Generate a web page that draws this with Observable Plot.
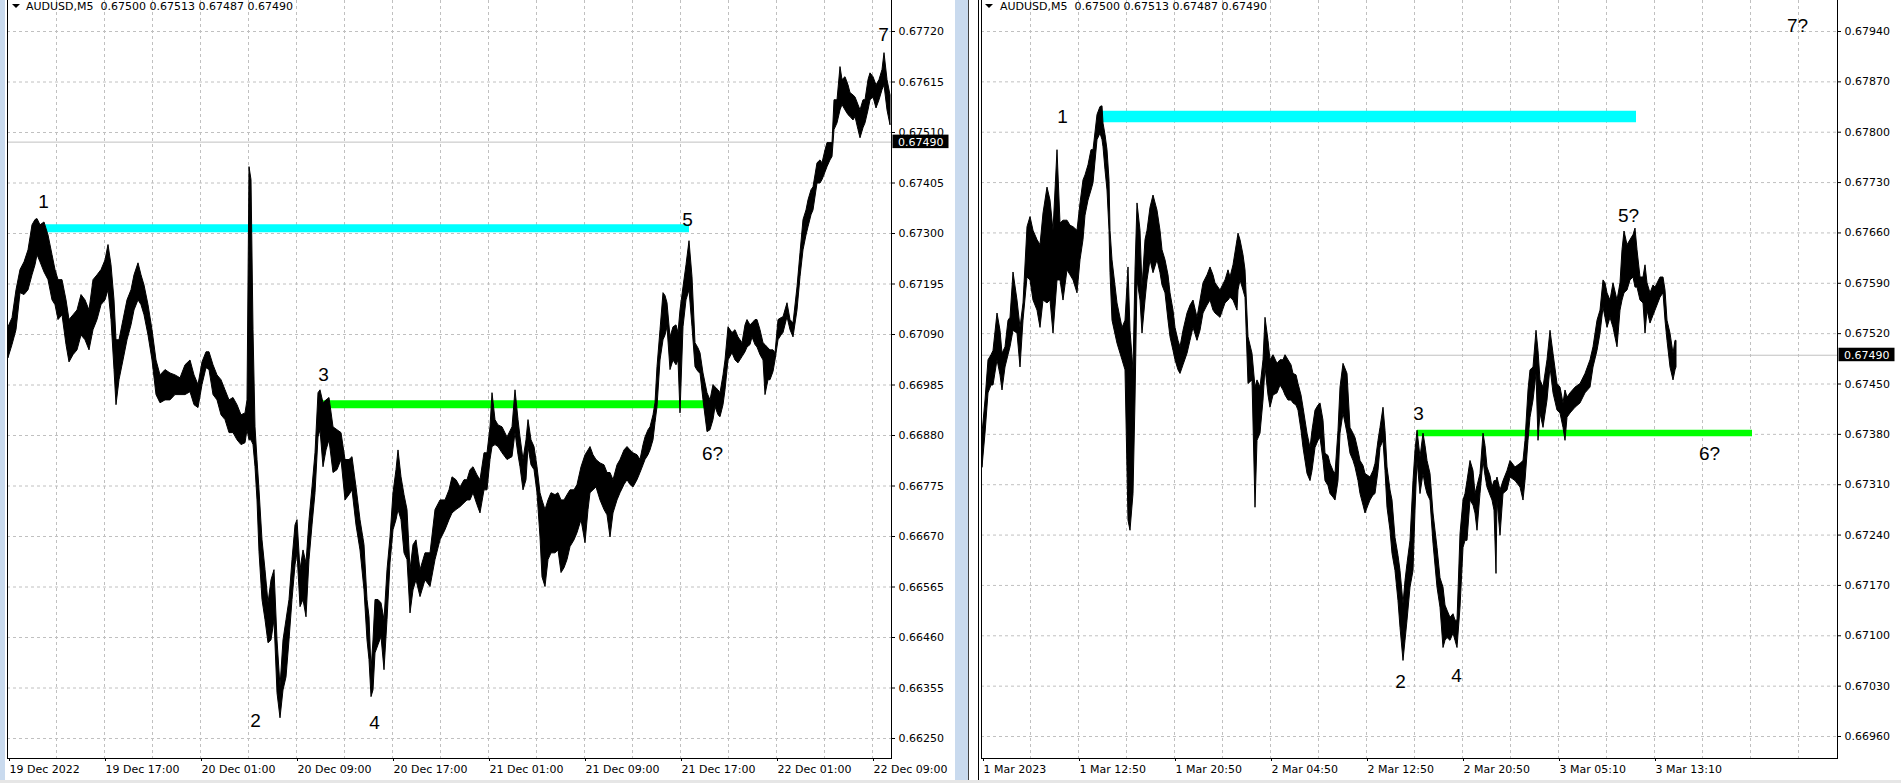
<!DOCTYPE html>
<html>
<head>
<meta charset="utf-8">
<script src="https://cdn.jsdelivr.net/npm/d3@7"></script>
<script src="https://cdn.jsdelivr.net/npm/@observablehq/plot@0.6"></script>
<style>
  html, body { margin:0; padding:0; background:#fff; }
  #root { position:relative; width:1901px; height:783px; overflow:hidden; background:#fff; }
  .panel { position:absolute; top:0; }
  .hdr { position:absolute; top:0; font-family:"DejaVu Sans", sans-serif; font-size:11px; line-height:13px; color:#000; white-space:pre; }
  .tri { position:absolute; top:4px; width:0; height:0; border-left:4px solid transparent; border-right:4px solid transparent; border-top:4px solid #000; }
  .strip { position:absolute; top:0; height:783px; }
</style>
</head>
<body>
<div id="root">
  <div class="strip" style="left:0;width:5px;background:#c9daee"></div>
  <div class="strip" style="left:955px;width:13px;background:#c9daee"></div>
  <div class="strip" style="left:968px;width:1px;background:#404040"></div>
  <div class="strip" style="left:978px;width:1px;background:#000"></div>
  <div id="left" class="panel" style="left:0"></div>
  <div id="right" class="panel" style="left:978px"></div>
  <div class="tri" style="left:12px"></div>
  <div class="hdr" id="hdrL" style="left:26px"></div>
  <div class="tri" style="left:985px"></div>
  <div class="hdr" id="hdrR" style="left:1000px"></div>
  <div style="position:absolute;left:0;top:780px;width:1901px;height:3px;background:#e6e6e6"></div>
</div>
<script>
// ---------------- header ----------------
const symbol = "AUDUSD,M5";
const headerOHLC = ["0.67500", "0.67513", "0.67487", "0.67490"];
const lastClose = 0.67490;

// ---------------- LEFT PANEL (19–22 Dec 2022) ----------------
// bar index = number of 5-minute bars since 19 Dec 09:00
const leftBar = [
  0,4,8,12,16,20,24,27,29,32,
  36,40,44,47,50,54,58,61,65,69,
  73,77,81,85,89,93,97,100,103,106,
  108,111,115,119,123,126,130,133,136,140,
  144,148,152,157,162,167,172,177,182,186,
  190,194,198,201,205,209,213,217,221,225,
  229,233,237,239,241,243,245,247,249,251,
  254,257,260,263,266,269,272,275,278,281,
  284,287,289,292,295,298,301,304,307,310,
  312,315,318,321,325,329,333,337,341,344,
  348,352,356,359,361,363,365,367,370,373,
  376,379,382,385,388,390,393,396,399,402,
  405,408,412,417,422,427,432,437,441,444,
  448,452,456,459,462,465,469,472,476,479,
  482,484,487,490,494,499,504,507,510,512,
  515,518,520,523,526,529,532,534,537,540,
  543,547,550,553,556,559,562,566,569,573,
  577,580,582,585,588,592,596,599,602,605,
  609,612,616,619,622,625,629,632,635,637,
  640,642,645,647,649,652,655,657,659,662,
  665,668,670,672,675,678,681,684,687,690,
  692,695,699,702,705,707,710,712,715,717,
  720,724,727,730,734,737,739,742,744,747,
  749,752,755,757,760,762,765,767,770,773,
  775,779,782,785,789,792,795,798,800,803,
  805,809,812,814,817,819,822,824,826,829,
  832,834,837,840,842,845,847,850,852,855,
  857,860,862,865,868,871,874,876,879,882
];
const leftHigh = [
  0.67105,0.67124,0.67182,0.67224,0.67240,0.67265,0.67317,0.67328,0.67330,0.67317,
  0.67323,0.67296,0.67255,0.67224,0.67203,0.67203,0.67161,0.67120,0.67130,0.67140,
  0.67172,0.67161,0.67140,0.67203,0.67213,0.67224,0.67244,0.67276,0.67234,0.67161,
  0.67078,0.67078,0.67120,0.67161,0.67182,0.67213,0.67238,0.67213,0.67192,0.67151,
  0.67099,0.67036,0.67005,0.67016,0.67009,0.67005,0.66999,0.67026,0.67036,0.67005,
  0.66985,0.67032,0.67053,0.67053,0.67026,0.67005,0.66995,0.66974,0.66953,0.66958,
  0.66943,0.66922,0.66926,0.66953,0.67438,0.67411,0.67099,0.66897,0.66829,0.66766,
  0.66662,0.66600,0.66531,0.66579,0.66600,0.66454,0.66357,0.66454,0.66496,0.66538,
  0.66621,0.66693,0.66704,0.66600,0.66641,0.66614,0.66704,0.66772,0.66843,0.66968,
  0.66974,0.66947,0.66953,0.66958,0.66897,0.66891,0.66885,0.66829,0.66829,0.66835,
  0.66772,0.66704,0.66652,0.66538,0.66502,0.66392,0.66454,0.66538,0.66538,0.66531,
  0.66496,0.66600,0.66668,0.66760,0.66808,0.66849,0.66793,0.66756,0.66725,0.66600,
  0.66652,0.66662,0.66600,0.66635,0.66635,0.66725,0.66745,0.66745,0.66766,0.66793,
  0.66787,0.66772,0.66787,0.66787,0.66808,0.66814,0.66797,0.66787,0.66843,0.66843,
  0.66897,0.66968,0.66912,0.66901,0.66897,0.66876,0.66897,0.66974,0.66912,0.66876,
  0.66829,0.66870,0.66912,0.66870,0.66856,0.66814,0.66760,0.66745,0.66725,0.66745,
  0.66760,0.66756,0.66760,0.66745,0.66745,0.66756,0.66766,0.66766,0.66777,0.66814,
  0.66839,0.66849,0.66856,0.66839,0.66829,0.66822,0.66818,0.66802,0.66802,0.66787,
  0.66818,0.66829,0.66849,0.66856,0.66849,0.66843,0.66839,0.66829,0.66860,0.66876,
  0.66891,0.66897,0.66922,0.66947,0.67022,0.67099,0.67176,0.67170,0.67155,0.67084,
  0.67105,0.67109,0.67093,0.67140,0.67188,0.67234,0.67284,0.67209,0.67072,0.67061,
  0.67051,0.67009,0.66968,0.66953,0.66985,0.66980,0.66974,0.66968,0.67005,0.67036,
  0.67105,0.67093,0.67099,0.67084,0.67072,0.67109,0.67120,0.67109,0.67113,0.67120,
  0.67120,0.67099,0.67072,0.67068,0.67061,0.67057,0.67057,0.67051,0.67120,0.67124,
  0.67126,0.67155,0.67120,0.67113,0.67188,0.67259,0.67328,0.67348,0.67369,0.67390,
  0.67396,0.67446,0.67452,0.67446,0.67473,0.67488,0.67488,0.67488,0.67577,0.67577,
  0.67646,0.67619,0.67625,0.67608,0.67592,0.67587,0.67583,0.67567,0.67556,0.67577,
  0.67577,0.67619,0.67633,0.67625,0.67608,0.67619,0.67640,0.67675,0.67619,0.67587
];
const leftLow = [
  0.67041,0.67068,0.67099,0.67176,0.67172,0.67182,0.67213,0.67234,0.67255,0.67240,
  0.67219,0.67203,0.67161,0.67151,0.67120,0.67130,0.67068,0.67032,0.67047,0.67057,
  0.67088,0.67078,0.67057,0.67099,0.67120,0.67151,0.67161,0.67182,0.67120,0.67016,
  0.66943,0.66995,0.67036,0.67078,0.67109,0.67140,0.67161,0.67151,0.67130,0.67088,
  0.67036,0.66964,0.66947,0.66953,0.66953,0.66964,0.66964,0.66964,0.66970,0.66943,
  0.66937,0.66985,0.67020,0.67016,0.66964,0.66953,0.66922,0.66912,0.66885,0.66885,
  0.66870,0.66860,0.66864,0.66891,0.66870,0.66870,0.66860,0.66814,0.66745,0.66637,
  0.66538,0.66496,0.66448,0.66454,0.66496,0.66344,0.66292,0.66350,0.66377,0.66454,
  0.66538,0.66610,0.66635,0.66523,0.66538,0.66502,0.66621,0.66693,0.66760,0.66876,
  0.66891,0.66814,0.66849,0.66870,0.66802,0.66808,0.66829,0.66745,0.66756,0.66766,
  0.66693,0.66641,0.66558,0.66454,0.66413,0.66336,0.66350,0.66427,0.66444,0.66461,
  0.66392,0.66496,0.66614,0.66683,0.66704,0.66725,0.66704,0.66635,0.66621,0.66510,
  0.66558,0.66579,0.66544,0.66579,0.66565,0.66621,0.66662,0.66683,0.66704,0.66718,
  0.66725,0.66731,0.66739,0.66745,0.66745,0.66760,0.66735,0.66718,0.66766,0.66766,
  0.66829,0.66856,0.66860,0.66856,0.66843,0.66829,0.66835,0.66885,0.66839,0.66814,
  0.66766,0.66787,0.66856,0.66818,0.66808,0.66760,0.66668,0.66585,0.66565,0.66621,
  0.66635,0.66635,0.66641,0.66594,0.66604,0.66621,0.66648,0.66662,0.66677,0.66704,
  0.66656,0.66725,0.66760,0.66766,0.66772,0.66745,0.66725,0.66714,0.66668,0.66718,
  0.66745,0.66760,0.66777,0.66787,0.66777,0.66772,0.66787,0.66802,0.66818,0.66829,
  0.66839,0.66849,0.66870,0.66906,0.66939,0.67036,0.67078,0.67088,0.67105,0.67016,
  0.67036,0.67026,0.67036,0.66926,0.67105,0.67161,0.67182,0.67105,0.67022,0.67012,
  0.67009,0.66953,0.66887,0.66891,0.66912,0.66939,0.66922,0.66918,0.66943,0.66974,
  0.67036,0.67051,0.67036,0.67030,0.67043,0.67053,0.67063,0.67068,0.67084,0.67068,
  0.67063,0.67047,0.67036,0.66964,0.66995,0.66995,0.67012,0.67036,0.67078,0.67088,
  0.67093,0.67126,0.67099,0.67084,0.67140,0.67209,0.67265,0.67296,0.67313,0.67338,
  0.67348,0.67404,0.67404,0.67411,0.67427,0.67438,0.67452,0.67459,0.67515,0.67529,
  0.67556,0.67567,0.67556,0.67546,0.67542,0.67535,0.67542,0.67515,0.67498,0.67519,
  0.67529,0.67556,0.67577,0.67583,0.67560,0.67577,0.67598,0.67608,0.67556,0.67525
];
const leftPriceTicks = [0.67720,0.67615,0.67510,0.67405,0.67300,0.67195,0.67090,0.66985,0.66880,0.66775,0.66670,0.66565,0.66460,0.66355,0.66250];
const leftTimeBars = [0,96,192,288,384,480,576,672,768,864];
const leftTimeLabels = ["19 Dec 2022","19 Dec 17:00","20 Dec 01:00","20 Dec 09:00","20 Dec 17:00","21 Dec 01:00","21 Dec 09:00","21 Dec 17:00","22 Dec 01:00","22 Dec 09:00"];
const leftGridBars = [48,96,144,192,240,288,336,384,432,480,528,576,624,672,720,768,816,864];
const leftLevelPrice = [0.67311, 0.66945];
const leftLevelFrom = [26, 314];
const leftLevelTo = [681, 707];
const leftWaveText = ["1","2","3","4","5","6?","7"];
const leftWaveBar = [35, 247, 315, 366, 679, 704, 875];
const leftWavePrice = [0.67366, 0.66287, 0.67007, 0.66282, 0.67328, 0.66841, 0.67712];

// ---------------- RIGHT PANEL (1–3 Mar 2023) ----------------
const rightBar = [
  0,3,6,9,11,15,18,20,23,26,
  28,31,35,38,41,45,48,51,55,58,
  61,65,68,71,75,78,81,85,88,91,
  95,98,101,103,106,109,111,115,118,120,
  121,123,125,127,128,130,135,140,143,146,
  148,151,153,155,158,160,163,165,168,171,
  175,178,180,183,186,188,191,193,196,198,
  201,205,208,211,215,218,221,225,228,231,
  233,238,243,246,248,251,255,256,258,261,
  263,266,270,273,275,278,281,283,286,288,
  291,295,298,301,303,306,309,311,314,316,
  319,321,325,328,330,333,336,338,341,343,
  346,348,351,353,356,358,361,365,368,371,
  373,376,378,381,383,386,388,391,393,396,
  398,401,403,405,408,410,413,416,418,421,
  423,425,428,431,433,435,438,441,443,445,
  448,451,455,458,461,463,465,468,471,473,
  475,478,481,483,485,488,491,493,495,498,
  501,503,505,508,510,512,514,515,518,521,
  525,528,533,538,541,543,546,548,551,554,
  556,558,561,565,568,571,575,578,581,583,
  585,588,593,598,603,608,611,615,618,621,
  623,625,628,631,635,638,640,642,645,648,
  651,653,655,658,661,663,665,668,671,673,
  678,681,683,685,688,691,693,694
];
const rightHigh = [
  0.67381,0.67427,0.67483,0.67490,0.67496,0.67548,0.67524,0.67492,0.67501,0.67538,
  0.67542,0.67605,0.67566,0.67528,0.67562,0.67668,0.67682,0.67663,0.67650,0.67643,
  0.67687,0.67723,0.67705,0.67663,0.67775,0.67673,0.67677,0.67677,0.67670,0.67668,
  0.67663,0.67701,0.67733,0.67740,0.67754,0.67775,0.67775,0.67824,0.67835,0.67836,
  0.67812,0.67796,0.67775,0.67733,0.67663,0.67622,0.67562,0.67528,0.67538,0.67612,
  0.67524,0.67469,0.67608,0.67701,0.67663,0.67584,0.67650,0.67663,0.67695,0.67712,
  0.67691,0.67663,0.67636,0.67622,0.67601,0.67576,0.67552,0.67528,0.67510,0.67501,
  0.67524,0.67548,0.67559,0.67566,0.67542,0.67566,0.67590,0.67601,0.67612,0.67601,
  0.67590,0.67580,0.67594,0.67608,0.67598,0.67615,0.67650,0.67659,0.67650,0.67629,
  0.67608,0.67515,0.67492,0.67445,0.67455,0.67445,0.67483,0.67542,0.67510,0.67483,
  0.67490,0.67478,0.67483,0.67483,0.67490,0.67483,0.67476,0.67464,0.67462,0.67450,
  0.67434,0.67417,0.67381,0.67361,0.67385,0.67413,0.67420,0.67423,0.67399,0.67353,
  0.67350,0.67339,0.67329,0.67325,0.67385,0.67445,0.67478,0.67464,0.67389,0.67381,
  0.67375,0.67357,0.67343,0.67336,0.67325,0.67322,0.67320,0.67329,0.67339,0.67371,
  0.67389,0.67417,0.67385,0.67334,0.67302,0.67288,0.67236,0.67211,0.67190,0.67144,
  0.67176,0.67200,0.67232,0.67315,0.67357,0.67385,0.67348,0.67381,0.67364,0.67343,
  0.67325,0.67270,0.67222,0.67180,0.67167,0.67142,0.67135,0.67125,0.67130,0.67121,
  0.67121,0.67241,0.67288,0.67297,0.67315,0.67343,0.67329,0.67297,0.67308,0.67325,
  0.67381,0.67364,0.67334,0.67322,0.67306,0.67315,0.67315,0.67320,0.67302,0.67315,
  0.67329,0.67343,0.67334,0.67339,0.67343,0.67371,0.67441,0.67469,0.67473,0.67524,
  0.67496,0.67455,0.67445,0.67483,0.67524,0.67492,0.67450,0.67445,0.67423,0.67441,
  0.67431,0.67437,0.67445,0.67450,0.67464,0.67483,0.67501,0.67538,0.67552,0.67594,
  0.67590,0.67576,0.67566,0.67590,0.67566,0.67590,0.67636,0.67662,0.67643,0.67650,
  0.67657,0.67666,0.67636,0.67598,0.67598,0.67615,0.67590,0.67576,0.67587,0.67584,
  0.67598,0.67598,0.67580,0.67538,0.67520,0.67492,0.67510,0.67510
];
const rightLow = [
  0.67334,0.67381,0.67437,0.67448,0.67448,0.67483,0.67462,0.67441,0.67473,0.67490,
  0.67501,0.67524,0.67520,0.67473,0.67538,0.67598,0.67594,0.67566,0.67552,0.67528,
  0.67566,0.67562,0.67566,0.67520,0.67594,0.67594,0.67566,0.67608,0.67601,0.67594,
  0.67576,0.67622,0.67650,0.67684,0.67705,0.67719,0.67729,0.67789,0.67798,0.67789,
  0.67779,0.67747,0.67719,0.67663,0.67604,0.67538,0.67506,0.67483,0.67469,0.67260,
  0.67246,0.67297,0.67427,0.67594,0.67566,0.67520,0.67566,0.67594,0.67622,0.67604,
  0.67622,0.67604,0.67587,0.67576,0.67538,0.67515,0.67496,0.67483,0.67469,0.67464,
  0.67476,0.67492,0.67510,0.67528,0.67510,0.67524,0.67548,0.67559,0.67566,0.67552,
  0.67548,0.67542,0.67562,0.67566,0.67570,0.67566,0.67552,0.67580,0.67594,0.67580,
  0.67570,0.67450,0.67455,0.67278,0.67371,0.67381,0.67427,0.67473,0.67434,0.67417,
  0.67434,0.67437,0.67448,0.67441,0.67434,0.67427,0.67427,0.67423,0.67420,0.67413,
  0.67385,0.67361,0.67325,0.67315,0.67329,0.67361,0.67371,0.67375,0.67343,0.67315,
  0.67308,0.67297,0.67292,0.67288,0.67315,0.67381,0.67409,0.67381,0.67353,0.67343,
  0.67334,0.67315,0.67297,0.67281,0.67270,0.67281,0.67288,0.67295,0.67297,0.67329,
  0.67361,0.67371,0.67329,0.67278,0.67246,0.67214,0.67190,0.67148,0.67111,0.67065,
  0.67093,0.67121,0.67167,0.67190,0.67274,0.67343,0.67297,0.67325,0.67308,0.67297,
  0.67288,0.67228,0.67167,0.67139,0.67083,0.67093,0.67097,0.67093,0.67103,0.67093,
  0.67083,0.67139,0.67222,0.67232,0.67232,0.67288,0.67281,0.67270,0.67246,0.67297,
  0.67343,0.67322,0.67306,0.67295,0.67288,0.67274,0.67186,0.67288,0.67239,0.67297,
  0.67302,0.67320,0.67315,0.67306,0.67288,0.67315,0.67371,0.67403,0.67427,0.67464,
  0.67371,0.67409,0.67389,0.67427,0.67473,0.67437,0.67413,0.67409,0.67389,0.67371,
  0.67403,0.67409,0.67417,0.67423,0.67437,0.67445,0.67473,0.67496,0.67520,0.67556,
  0.67542,0.67528,0.67542,0.67528,0.67501,0.67552,0.67566,0.67576,0.67580,0.67594,
  0.67598,0.67584,0.67584,0.67566,0.67562,0.67520,0.67552,0.67534,0.67545,0.67552,
  0.67570,0.67576,0.67538,0.67510,0.67473,0.67455,0.67469,0.67473
];
const rightPriceTicks = [0.67940,0.67870,0.67800,0.67730,0.67660,0.67590,0.67520,0.67450,0.67380,0.67310,0.67240,0.67170,0.67100,0.67030,0.66960];
const rightTimeBars = [0,96,192,288,384,480,576,672];
const rightTimeLabels = ["1 Mar 2023","1 Mar 12:50","1 Mar 20:50","2 Mar 04:50","2 Mar 12:50","2 Mar 20:50","3 Mar 05:10","3 Mar 13:10"];
const rightGridBars = [48,96,144,192,240,288,336,384,432,480,528,576,624,672,720,768,816];
const rightLevelPrice = [0.67822, 0.67382];
const rightLevelFrom = [120, 435];
const rightLevelTo = [654, 770];
const rightWaveText = ["1","2","3","4","5?","6?","7?"];
const rightWaveBar = [80, 418, 436, 474, 646, 727, 815];
const rightWavePrice = [0.67821, 0.67036, 0.67409, 0.67044, 0.67683, 0.67353, 0.67948];

// ---------------- drawing ----------------
document.getElementById("hdrL").textContent = symbol + "  " + headerOHLC.join(" ");
document.getElementById("hdrR").textContent = symbol + "  " + headerOHLC.join(" ");

function drawPanel(cfg) {
  const bars = cfg.bar.map((b, i) => ({bar: b, high: cfg.high[i], low: cfg.low[i]}));
  const levels = cfg.levelPrice.map((p, i) => ({price: p, from: cfg.levelFrom[i], to: cfg.levelTo[i]}));
  const waves = cfg.waveText.map((t, i) => ({text: t, bar: cfg.waveBar[i], price: cfg.wavePrice[i]}));
  const chart = Plot.plot({
    width: cfg.width,
    height: 783,
    marginLeft: cfg.marginLeft,
    marginRight: cfg.marginRight,
    marginTop: 0,
    marginBottom: 25,
    style: {fontFamily: '"DejaVu Sans", sans-serif', fontSize: "11px", color: "#000", background: "transparent", overflow: "visible"},
    x: {type: "linear", domain: cfg.xDomain, range: cfg.xRange},
    y: {type: "linear", domain: cfg.yDomain, range: cfg.yRange},
    marks: [
      Plot.ruleY(cfg.priceTicks, {stroke: "#c0c0c0", strokeDasharray: "3,3", strokeWidth: 1}),
      Plot.ruleX(cfg.gridBars, {stroke: "#c0c0c0", strokeDasharray: "3,3", strokeWidth: 1}),
      Plot.ruleY([lastClose], {stroke: "#c0c0c0", strokeWidth: 1}),
      Plot.ruleY([levels[0]], {y: "price", x1: "from", x2: "to", stroke: "#00ffff", strokeWidth: cfg.levelWidth[0]}),
      Plot.ruleY([levels[1]], {y: "price", x1: "from", x2: "to", stroke: "#00ff00", strokeWidth: cfg.levelWidth[1]}),
      Plot.areaY(bars, {x: "bar", y1: "low", y2: "high", fill: "#000", stroke: "#000", strokeWidth: 1, curve: "linear"}),
      Plot.text(waves, {x: "bar", y: "price", text: "text", fontFamily: '"Liberation Sans", Arial, sans-serif', fontSize: 19, fill: "#000", textAnchor: "middle", lineAnchor: "middle"}),
      Plot.frame({anchor: "left", stroke: "#000"}),
      Plot.frame({anchor: "right", stroke: "#000"}),
      Plot.frame({anchor: "bottom", stroke: "#000"}),
      Plot.axisY({ticks: cfg.priceTicks, anchor: "right", tickSize: 3, tickPadding: 4, tickFormat: d => d.toFixed(5), label: null, fill: "#000", stroke: "#000"}),
      Plot.axisX({ticks: cfg.timeBars, anchor: "bottom", tickSize: 3, tickPadding: 4, tickFormat: d => cfg.timeLabels[cfg.timeBars.indexOf(d)], textAnchor: "start", dx: 1, label: null, fill: "#000", stroke: "#000"})
    ]
  });
  // current price tag on the price scale
  const yPix = chart.scale("y").apply(lastClose);
  const frameRight = cfg.width - cfg.marginRight;
  const svg = d3.select(chart);
  svg.append("rect").attr("x", frameRight + 1.5).attr("y", yPix - 7).attr("width", 56).attr("height", 13.5).attr("fill", "#000");
  svg.append("text").attr("x", frameRight + 7).attr("y", yPix).attr("dy", "0.36em")
     .attr("text-anchor", "start")
     .attr("fill", "#fff").attr("font-family", '"DejaVu Sans", sans-serif').attr("font-size", 11)
     .text(lastClose.toFixed(5));
  document.getElementById(cfg.target).appendChild(chart);
}

drawPanel({
  target: "left", width: 955, marginLeft: 7, marginRight: 64,
  bar: leftBar, high: leftHigh, low: leftLow,
  xDomain: [0, 883], xRange: [8, 891],
  yDomain: [0.66250, 0.67720], yRange: [738, 31],
  priceTicks: leftPriceTicks, timeBars: leftTimeBars, timeLabels: leftTimeLabels, gridBars: leftGridBars,
  levelPrice: leftLevelPrice, levelFrom: leftLevelFrom, levelTo: leftLevelTo, levelWidth: [8, 8],
  waveText: leftWaveText, waveBar: leftWaveBar, wavePrice: leftWavePrice
});
drawPanel({
  target: "right", width: 923, marginLeft: 3, marginRight: 64,
  bar: rightBar, high: rightHigh, low: rightLow,
  xDomain: [0, 855], xRange: [4, 859],
  yDomain: [0.66960, 0.67940], yRange: [736, 31],
  priceTicks: rightPriceTicks, timeBars: rightTimeBars, timeLabels: rightTimeLabels, gridBars: rightGridBars,
  levelPrice: rightLevelPrice, levelFrom: rightLevelFrom, levelTo: rightLevelTo, levelWidth: [11.5, 6.5],
  waveText: rightWaveText, waveBar: rightWaveBar, wavePrice: rightWavePrice
});
</script>
</body>
</html>
